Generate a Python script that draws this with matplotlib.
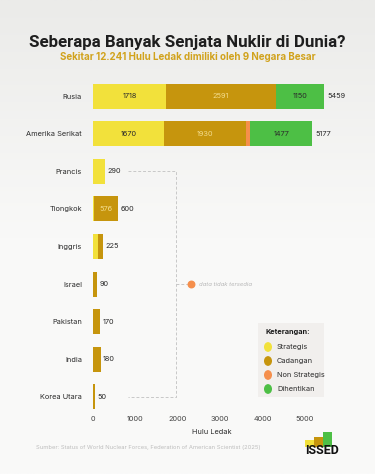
import matplotlib.pyplot as plt
import numpy as np
from matplotlib.patches import Rectangle

# data
countries = ["Rusia", "Amerika Serikat", "Prancis", "Tiongkok", "Inggris",
             "Israel", "Pakistan", "India", "Korea Utara"]
strategis = [1718, 1670, 290, 24, 120, 0, 0, 0, 0]
cadangan = [2591, 1930, 0, 576, 105, 90, 170, 180, 50]
non_strategis = [0, 100, 0, 0, 0, 0, 0, 0, 0]
dihentikan = [1150, 1477, 0, 0, 0, 0, 0, 0, 0]
totals = [5459, 5177, 290, 600, 225, 90, 170, 180, 50]
x_ticks = [0, 1000, 2000, 3000, 4000, 5000]

c_str = "#f2e13b"
c_cad = "#c6950d"
c_non = "#f58f4c"
c_dih = "#4dbf45"
dark = "#2b2b2b"
light_txt = "#f3dc8c"

plt.rcParams['font.family'] = ['Inter', 'DejaVu Sans']

fig = plt.figure(figsize=(3.75, 4.74), dpi=100)
fig.patch.set_facecolor("#fafaf9")

# faint gray band at top
bg = fig.add_axes([0, 0, 1, 1], zorder=-10)
grad = np.linspace(0, 1, 200).reshape(-1, 1)
bg.imshow(grad, cmap=plt.matplotlib.colors.LinearSegmentedColormap.from_list(
    "bg", ["#ebebe9", "#f9f9f8", "#fafaf9"]), aspect="auto",
    extent=[0, 1, 0, 1], origin="upper")
bg.axis("off")

ax = fig.add_axes([0.248, 0.135, 0.633, 0.702])
ax.set_facecolor("none")

y = np.arange(len(countries))
h = 0.665
left = np.zeros(len(countries))
for vals, col in [(strategis, c_str), (cadangan, c_cad),
                  (non_strategis, c_non), (dihentikan, c_dih)]:
    ax.barh(y, vals, left=left, height=h, color=col, linewidth=0)
    left = left + np.array(vals)

# labels inside big bars
fs = 5.3
for i in range(2):
    lft = 0
    for vals, col in [(strategis, dark), (cadangan, light_txt),
                      (non_strategis, None), (dihentikan, dark)]:
        v = vals[i]
        if v > 300 and col is not None:
            ax.text(lft + v / 2, i, str(v), ha="center", va="center",
                    fontsize=fs, color=col)
        lft += v
ax.text(strategis[3] + cadangan[3] / 2, 3, str(cadangan[3]), ha="center",
        va="center", fontsize=fs, color=light_txt)

for i, t in enumerate(totals):
    ax.text(t + 60, i, str(t), ha="left", va="center", fontsize=fs,
            color=dark)

ax.set_xlim(0, 5600)
ax.set_ylim(8.35, -0.5)
ax.set_yticks(y)
ax.set_yticklabels(countries, fontsize=fs, color=dark)
ax.set_xticks(x_ticks)
ax.set_xticklabels([str(t) for t in x_ticks], fontsize=fs, color="#444444")
ax.tick_params(length=0, pad=8)
ax.tick_params(axis="x", pad=4)
for s in ax.spines.values():
    s.set_visible(False)
ax.set_xlabel("Hulu Ledak", fontsize=fs, color=dark, labelpad=5)

# bracket for "data tidak tersedia"
dash = dict(color="#c8c8c8", linestyle=(0, (3, 2)), linewidth=0.7,
            clip_on=False)
ax.plot([825, 1958, 1958, 825], [2, 2, 8, 8], **dash)
ax.plot([1958, 2300], [5, 5], **dash)
ax.scatter([2311], [5], s=22, color=c_non, zorder=5, clip_on=False)
ax.text(2500, 5, "data tidak tersedia", fontsize=4.3, color="#b8b8b8",
        style="italic", va="center")

# legend box
fig.patches.append(Rectangle((258 / 375, 1 - 397 / 474), 66 / 375, 74 / 474,
                             transform=fig.transFigure, facecolor="#f1efed",
                             edgecolor="none", zorder=1))
fig.text(265 / 375, 1 - 332 / 474, "Keterangan:", fontsize=5.3,
         fontweight="bold", color="#1a1a1a", va="center")
leg_items = ["Strategis", "Cadangan", "Non Strategis", "Dihentikan"]
leg_cols = [c_str, c_cad, c_non, c_dih]
for k, (lab, col) in enumerate(zip(leg_items, leg_cols)):
    yy = 1 - (347 + 14 * k) / 474
    fig.patches.append(plt.Circle((268 / 375, yy), 3.3 / 375,
                                  transform=fig.transFigure, color=col,
                                  zorder=2))
    fig.text(277 / 375, yy, lab, fontsize=5.3, color=dark, va="center")

# titles
fig.text(0.5, 1 - 42 / 474, "Seberapa Banyak Senjata Nuklir di Dunia?",
         ha="center", va="center", fontsize=12.2, fontweight="bold",
         color="#1e1e1e", family=["Roboto", "DejaVu Sans"])
fig.text(0.5, 1 - 57 / 474,
         "Sekitar 12.241 Hulu Ledak dimiliki oleh 9 Negara Besar",
         ha="center", va="center", fontsize=7.0, fontweight="bold",
         color="#d1a21c")

fig.text(36 / 375, 1 - 448 / 474,
         "Sumber: Status of World Nuclear Forces, Federation of American "
         "Scientist (2025)", fontsize=4.2, color="#bdbdbd", va="center")

# logo
for x0, w, top, col in [(305, 9, 440, c_str), (314, 9, 437, c_cad),
                        (323, 9, 432, c_dih)]:
    fig.patches.append(Rectangle((x0 / 375, 1 - 447 / 474), w / 375,
                                 (447 - top) / 474, transform=fig.transFigure,
                                 facecolor=col, edgecolor="none", zorder=3))
fig.text(322 / 375, 1 - 451 / 474, "ISSED", ha="center", va="center",
         fontsize=9, fontweight="bold", color="#111111", zorder=4,
         family=["Roboto", "DejaVu Sans"])

fig.savefig("out.png", dpi=100, facecolor=fig.get_facecolor())
